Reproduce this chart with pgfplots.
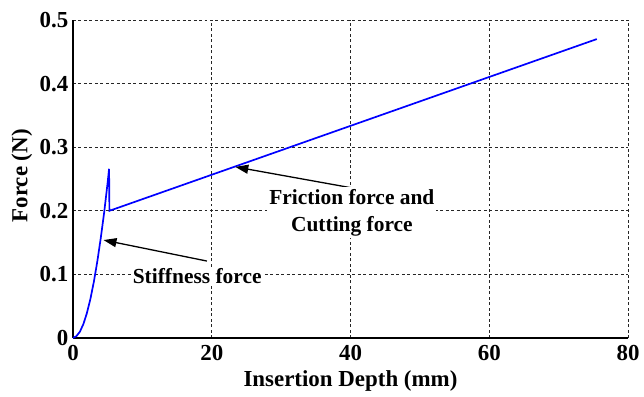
\documentclass[border=0pt]{standalone}
\usepackage{pgfplots}
\pgfplotsset{compat=1.18}
\usepackage{fontspec}
\setmainfont{Liberation Serif}
\usetikzlibrary{arrows.meta}
\begin{document}
\begin{tikzpicture}
\begin{axis}[
  scale only axis,
  width=555bp, height=318bp,
  xmin=0, xmax=80, ymin=0, ymax=0.5,
  xtick={0,20,40,60,80},
  ytick={0,0.1,0.2,0.3,0.4,0.5},
  yticklabels={0,0.1,0.2,0.3,0.4,0.5},
  axis lines=left,
  axis line style={line width=1.4pt,-},
  tick style={draw=none},
  grid=major,
  major grid style={black!85, dash pattern=on 3pt off 2.5pt, line width=0.9pt},
  font=\bfseries\fontsize{23}{26}\selectfont,
  tick label style={font=\bfseries\fontsize{23}{26}\selectfont},
  xticklabel style={yshift=-2bp},
  yticklabel style={xshift=1bp},
  /pgf/number format/assume math mode=true,
  xlabel={Insertion Depth (mm)},
  ylabel={Force (N)},
  xlabel style={at={(axis description cs:0.5,-0.135)}, anchor=center},
  ylabel style={at={(axis description cs:-0.092,0.51)}, anchor=center},
  clip=false,
]
\addplot[blue, line width=1.7pt] coordinates {
 (0,0) (0.5,0.003) (1,0.010) (1.5,0.022) (2,0.039) (2.5,0.061) (3,0.088)
 (3.5,0.120) (4,0.157) (4.5,0.198) (5,0.245) (5.2,0.266) (5.25,0.200) (75.5,0.470)
};
\draw[line width=1.3pt, -{Triangle[length=13pt,width=9pt]}] (axis cs:40.2,0.236) -- (axis cs:23.4,0.269);
\draw[line width=1.3pt, -{Triangle[length=13pt,width=9pt]}] (axis cs:19.3,0.121) -- (axis cs:4.4,0.154);
\node[fill=white, inner sep=2pt, align=center, font=\bfseries\fontsize{21.5}{27}\selectfont] at (axis cs:40.2,0.197) {Friction force and\\Cutting force};
\node[fill=white, inner sep=2pt, font=\bfseries\fontsize{21.5}{26}\selectfont] at (axis cs:17.9,0.097) {Stiffness force};
\end{axis}
\pgfresetboundingbox
\path (-73bp,-59bp) rectangle (571bp,338bp);
\end{tikzpicture}
\end{document}
